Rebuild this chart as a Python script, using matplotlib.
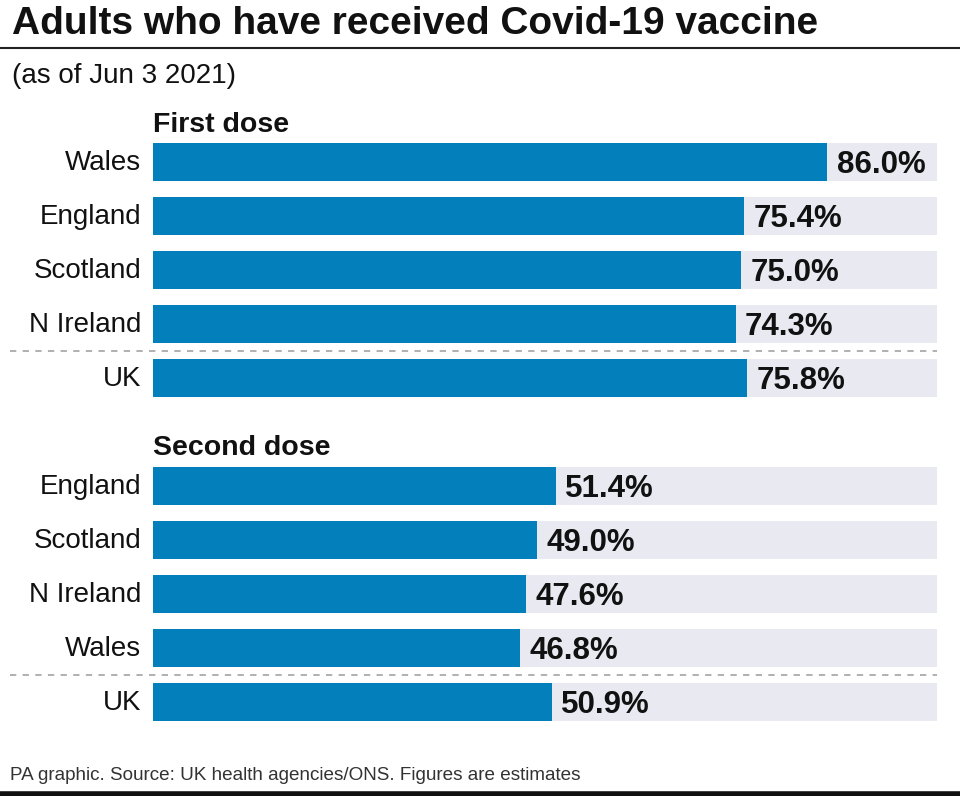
import matplotlib.pyplot as plt
from matplotlib.lines import Line2D
import matplotlib.transforms as mtransforms

plt.rcParams['font.family'] = ['Liberation Sans', 'DejaVu Sans']

title = 'Adults who have received Covid-19 vaccine'
subtitle = '(as of Jun 3 2021)'
footer = 'PA graphic. Source: UK health agencies/ONS. Figures are estimates'

first_names = ['Wales', 'England', 'Scotland', 'N Ireland', 'UK']
first_vals = [86.0, 75.4, 75.0, 74.3, 75.8]
second_names = ['England', 'Scotland', 'N Ireland', 'Wales', 'UK']
second_vals = [51.4, 49.0, 47.6, 46.8, 50.9]

blue = '#0380bb'
track = '#e8e9f1'

W, H = 960, 796
fig = plt.figure(figsize=(W / 100, H / 100), dpi=100)

# bar area: x 0..100 maps to px 153..937, row r centre at px 162 + 54*r
y_top, y_bot = -1.0, 10.6
px_top = 162 + 54 * y_top
px_bot = 162 + 54 * y_bot
ax = fig.add_axes([153 / W, 1 - px_bot / H, 784 / W, (px_bot - px_top) / H])
ax.set_xlim(0, 100)
ax.set_ylim(y_bot, y_top)
ax.axis('off')

rows1 = list(range(0, 5))
rows2 = list(range(6, 11))
names = first_names + second_names
vals = first_vals + second_vals
rows = rows1 + rows2

bh = 0.70
ax.barh(rows, [100] * len(rows), height=bh, color=track, zorder=1)
ax.barh(rows, vals, height=bh, color=blue, zorder=2)

for r, v, n in zip(rows, vals, names):
    ax.text(v + 1.2, r + 0.05, f'{v:.1f}%', ha='left', va='center',
            fontsize=22.5, fontweight='bold', color='#111111', zorder=3)
    ax.text(-1.5, r + 0.02, n, ha='right', va='center', fontsize=20,
            color='#111111')

ax.text(0, -0.68, 'First dose', ha='left', va='center', fontsize=20.5,
        fontweight='bold', color='#111111')
ax.text(0, 5.30, 'Second dose', ha='left', va='center', fontsize=20.5,
        fontweight='bold', color='#111111')

# dashed separators above UK rows
tr = mtransforms.blended_transform_factory(fig.transFigure, ax.transData)
for yy in (3.5, 9.5):
    fig.add_artist(Line2D([10 / W, 937 / W], [yy, yy], transform=tr,
                          color='#aaaaaa', lw=1.3, ls=(0, (3.5, 3.5))))

# title block
fig.text(12 / W, 1 - 24 / H, title, ha='left', va='center', fontsize=28,
         fontweight='bold', color='#111111')
fig.add_artist(Line2D([0, 1], [1 - 48 / H, 1 - 48 / H], color='#222222', lw=1.5))
fig.text(12 / W, 1 - 76 / H, subtitle, ha='left', va='center', fontsize=20,
         color='#111111')

fig.text(10 / W, 1 - 776 / H, footer, ha='left', va='center', fontsize=13.6,
         color='#333333')
fig.add_artist(Line2D([0, 1], [1 - 794 / H, 1 - 794 / H], color='#111111', lw=4))

fig.savefig('out.png', dpi=100)
